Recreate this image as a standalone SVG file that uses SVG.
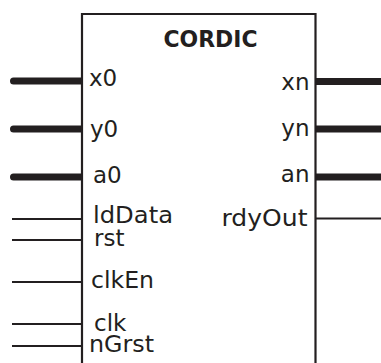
<svg xmlns="http://www.w3.org/2000/svg" width="381" height="363" viewBox="0 0 381 363">
  <style>
    .block { fill: #ffffff; stroke: #231f20; stroke-width: 2.2; }
    .bus { stroke: #231f20; stroke-width: 7; stroke-linecap: round; fill: none; }
    .bus-out { stroke: #231f20; stroke-width: 7; stroke-linecap: butt; fill: none; }
    .wire { stroke: #231f20; stroke-width: 2.2; fill: none; }
    .title { font-family: "DejaVu Sans", "Liberation Sans", sans-serif; font-weight: bold; font-size: 23px; fill: #231f20; }
    .port { font-family: "DejaVu Sans", "Liberation Sans", sans-serif; font-size: 23px; fill: #231f20; }
    .out { text-anchor: end; }
  </style>
  <rect width="381" height="363" fill="#ffffff"/>

  <!-- port connectors -->
  <g id="connectors">
    <line class="bus" x1="13.5" y1="81" x2="82" y2="81"/>
    <line class="bus" x1="13.5" y1="129" x2="82" y2="129"/>
    <line class="bus" x1="13.5" y1="177" x2="82" y2="177"/>
    <line class="wire" x1="12" y1="219" x2="82" y2="219"/>
    <line class="wire" x1="12" y1="240" x2="82" y2="240"/>
    <line class="wire" x1="12" y1="282" x2="82" y2="282"/>
    <line class="wire" x1="12" y1="324" x2="82" y2="324"/>
    <line class="wire" x1="12" y1="346" x2="82" y2="346"/>
    <line class="bus-out" x1="315.5" y1="81.5" x2="381" y2="81.5"/>
    <line class="bus-out" x1="315.5" y1="129" x2="381" y2="129"/>
    <line class="bus-out" x1="315.5" y1="177" x2="381" y2="177"/>
    <line class="wire" x1="315.5" y1="218.5" x2="381" y2="218.5"/>
  </g>

  <!-- CORDIC block -->
  <g id="cordic">
    <path class="block" d="M82,366 V14 H315.5 V366"/>
    <text class="title" x="163.5" y="47" textLength="94" lengthAdjust="spacingAndGlyphs">CORDIC</text>
    <text class="port" x="89" y="86">x0</text>
    <text class="port" x="90" y="137">y0</text>
    <text class="port" x="93" y="183">a0</text>
    <text class="port" x="93" y="223" textLength="80" lengthAdjust="spacingAndGlyphs">ldData</text>
    <text class="port" x="94" y="246">rst</text>
    <text class="port" x="91" y="288" textLength="63" lengthAdjust="spacingAndGlyphs">clkEn</text>
    <text class="port" x="94" y="331">clk</text>
    <text class="port" x="89" y="352" textLength="65" lengthAdjust="spacingAndGlyphs">nGrst</text>
    <text class="port out" x="309.5" y="89.5">xn</text>
    <text class="port out" x="309.5" y="136">yn</text>
    <text class="port out" x="309.5" y="182">an</text>
    <text class="port out" x="307.5" y="226" textLength="86" lengthAdjust="spacingAndGlyphs">rdyOut</text>
  </g>
</svg>
